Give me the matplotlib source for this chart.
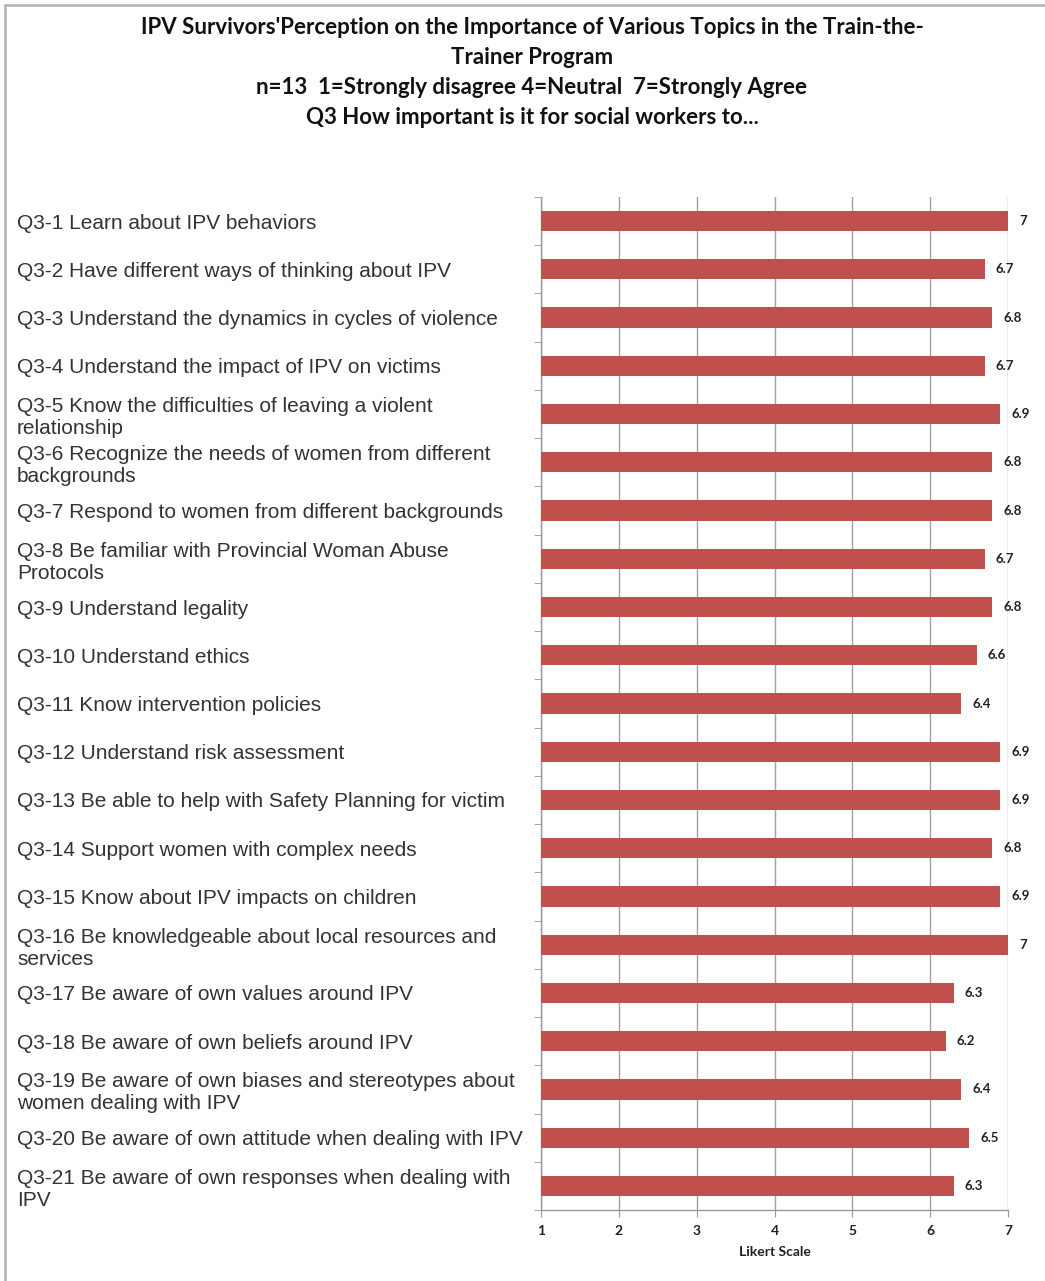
import matplotlib
matplotlib.use("Agg")
import matplotlib.pyplot as plt
from matplotlib.patches import Rectangle

categories = [
    "Q3-1 Learn about IPV behaviors",
    "Q3-2 Have different ways of thinking about IPV",
    "Q3-3 Understand the dynamics in cycles of violence",
    "Q3-4 Understand the impact of IPV on victims",
    "Q3-5 Know the difficulties of leaving a violent\nrelationship",
    "Q3-6 Recognize the needs of women from different\nbackgrounds",
    "Q3-7 Respond to women from different backgrounds",
    "Q3-8 Be familiar with Provincial Woman Abuse\nProtocols",
    "Q3-9 Understand legality",
    "Q3-10 Understand ethics",
    "Q3-11 Know intervention policies",
    "Q3-12 Understand risk assessment",
    "Q3-13 Be able to help with Safety Planning for victim",
    "Q3-14 Support women with complex needs",
    "Q3-15 Know about IPV impacts on children",
    "Q3-16 Be knowledgeable about local resources and\nservices",
    "Q3-17 Be aware of own values around IPV",
    "Q3-18 Be aware of own beliefs around IPV",
    "Q3-19 Be aware of own biases and stereotypes about\nwomen dealing with IPV",
    "Q3-20 Be aware of own attitude when dealing with IPV",
    "Q3-21 Be aware of own responses when dealing with\nIPV",
]
values = [7, 6.7, 6.8, 6.7, 6.9, 6.8, 6.8, 6.7, 6.8, 6.6, 6.4,
          6.9, 6.9, 6.8, 6.9, 7, 6.3, 6.2, 6.4, 6.5, 6.3]
value_labels = ["7", "6.7", "6.8", "6.7", "6.9", "6.8", "6.8", "6.7", "6.8", "6.6", "6.4",
                "6.9", "6.9", "6.8", "6.9", "7", "6.3", "6.2", "6.4", "6.5", "6.3"]
x_ticks = [1, 2, 3, 4, 5, 6, 7]

title_lines = [
    "IPV Survivors'Perception on the Importance of Various Topics in the Train-the-",
    "Trainer Program",
    "n=13  1=Strongly disagree 4=Neutral  7=Strongly Agree",
    "Q3 How important is it for social workers to...",
]

title_font = "Lato"
label_font = "Liberation Sans"

W, H = 1045, 1281
fig = plt.figure(figsize=(W / 100, H / 100), dpi=100)
fig.patch.set_facecolor("white")

# outer frame
fig.patches.append(Rectangle((5 / W, -0.1), 1.2, 1.1 - 5 / H, transform=fig.transFigure,
                             fill=False, edgecolor="#b8b8b8", linewidth=2.0))

left, right = 541 / W, 1008 / W
top, bottom = 1 - 197 / H, 1 - 1210 / H
ax = fig.add_axes([left, bottom, right - left, top - bottom])

n = len(categories)
ypos = list(range(n))
bar_color = "#C0504D"
ax.barh(ypos, [v - 1 for v in values], left=1, height=0.42, color=bar_color, zorder=3)

ax.set_xlim(1, 7)
ax.set_ylim(n - 0.5, -0.5)
ax.set_xticks(x_ticks)
ax.set_xticklabels([str(t) for t in x_ticks], fontfamily="Lato", fontweight="bold",
                   fontsize=10, color="#222222")
ax.tick_params(axis="x", direction="out", length=5, color="#999999", pad=6)

ax.set_yticks(ypos)
ax.set_yticklabels(categories, fontfamily=label_font, fontsize=15, color="#333333",
                   ha="left", linespacing=1.2)
ax.tick_params(axis="y", length=0, pad=(541 - 17) * 0.72)
ax.set_yticks([i - 0.5 for i in range(n + 1)], minor=True)
ax.tick_params(axis="y", which="minor", length=5, color="#999999", direction="out")

ax.grid(axis="x", color="#a0a0a0", linewidth=1.0, zorder=0)
for s in ["top", "right"]:
    ax.spines[s].set_visible(False)
for s in ["left", "bottom"]:
    ax.spines[s].set_color("#999999")
    ax.spines[s].set_linewidth(1.0)

for y, v, lab in zip(ypos, values, value_labels):
    ax.annotate(lab, xy=(v, y), xytext=(8, 0), textcoords="offset points",
                va="center", ha="left", fontfamily="Lato", fontweight="bold",
                fontsize=9.5, color="#222222", zorder=4)

ax.set_xlabel("Likert Scale", fontfamily="Lato", fontweight="bold", fontsize=10,
              color="#222222", labelpad=6)

title_y = [28, 58, 88, 118]
for t, yy in zip(title_lines, title_y):
    fig.text(532 / W, 1 - yy / H, t, ha="center", va="center",
             fontfamily=title_font, fontweight="bold", fontsize=16, color="#111111")

fig.savefig("out.png", dpi=100, facecolor="white")
